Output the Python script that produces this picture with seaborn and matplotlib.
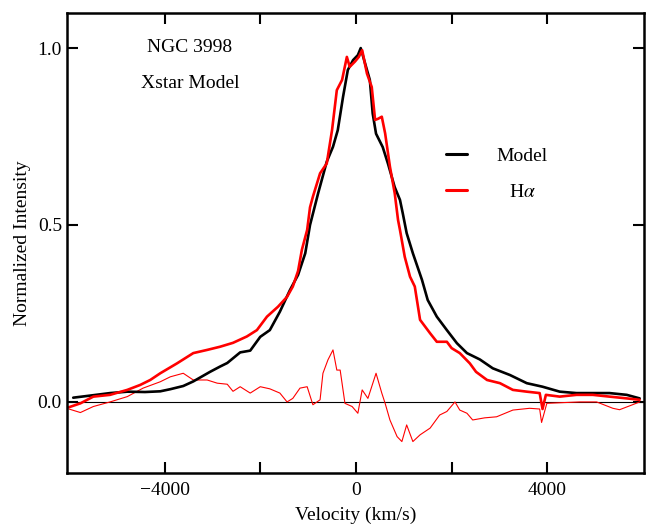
import matplotlib
matplotlib.use("Agg")
import matplotlib.pyplot as plt
import seaborn as sns
import numpy as np

# ---------------- data ----------------
model_v = [-5910, -5550, -5140, -4780, -4410, -4090, -3880, -3610, -3400, -3050,
           -2840, -2690, -2420, -2210, -2000, -1800, -1590, -1380, -1210, -1060,
           -960, -790, -610, -480, -380, -270, -170, -60, 40, 100,
           190, 290, 350, 420, 560, 670, 810, 920, 980, 1060, 1190,
           1380, 1500, 1690, 1900, 2110, 2320, 2590, 2860, 3220, 3570,
           3900, 4260, 4610, 4950, 5300, 5660, 5930]
model_i = [0.012, 0.018, 0.025, 0.029, 0.028, 0.030, 0.036, 0.045, 0.058, 0.085,
           0.100, 0.110, 0.140, 0.145, 0.184, 0.203, 0.255, 0.316, 0.359, 0.420,
           0.500, 0.590, 0.679, 0.721, 0.768, 0.862, 0.938, 0.966, 0.980, 1.000,
           0.957, 0.910, 0.815, 0.758, 0.720, 0.673, 0.607, 0.571, 0.532, 0.477, 0.420,
           0.345, 0.288, 0.241, 0.203, 0.166, 0.138, 0.120, 0.095, 0.076, 0.053,
           0.043, 0.029, 0.025, 0.025, 0.025, 0.020, 0.010]

halpha_v = [-6000, -5760, -5490, -5140, -4780, -4510, -4300, -4090, -3740, -3400,
            -3110, -2840, -2570, -2280, -2070, -1860, -1630, -1440, -1320, -1210,
            -1130, -1020, -960, -900, -750, -610, -500, -400, -290, -190,
            -130, -20, 60, 130, 230, 330, 400, 460, 540, 610,
            710, 810, 880, 920, 1020, 1130, 1230, 1340, 1550, 1690,
            1900, 2000, 2170, 2380, 2510, 2740, 3010, 3280, 3570, 3840,
            3900, 3970, 4260, 4610, 4950, 5300, 5660, 5930]
halpha_i = [-0.015, -0.004, 0.015, 0.020, 0.034, 0.048, 0.062, 0.081, 0.109, 0.138,
            0.147, 0.156, 0.167, 0.185, 0.203, 0.241, 0.269, 0.297, 0.326, 0.370,
            0.430, 0.486, 0.550, 0.580, 0.646, 0.674, 0.768, 0.881, 0.910, 0.975,
            0.947, 0.962, 0.975, 0.994, 0.928, 0.890, 0.797, 0.800, 0.806, 0.759,
            0.665, 0.590, 0.514, 0.486, 0.410, 0.354, 0.326, 0.232, 0.194, 0.170,
            0.170, 0.152, 0.138, 0.109, 0.085, 0.062, 0.053, 0.034, 0.029, 0.025,
            -0.020, 0.020, 0.015, 0.020, 0.020, 0.015, 0.010, 0.006]

resid_v = [-6000, -5760, -5490, -5140, -4780, -4450, -4090, -3880, -3610, -3400,
           -3110, -2900, -2690, -2570, -2420, -2210, -2000, -1800, -1590, -1440,
           -1320, -1170, -1020, -900, -750, -690, -585, -480, -400, -330,
           -230, -80, 40, 130, 250, 420, 540, 610, 710, 860,
           960, 1060, 1190, 1340, 1550, 1750, 1900, 2070, 2170, 2320,
           2440, 2690, 2940, 3280, 3630, 3840, 3880, 3990, 4320, 4680,
           5030, 5370, 5510, 5780, 5930]
resid_i = [-0.020, -0.030, -0.013, 0.000, 0.015, 0.039, 0.057, 0.071, 0.081, 0.062,
           0.062, 0.053, 0.050, 0.030, 0.043, 0.025, 0.043, 0.037, 0.025, 0.000,
           0.010, 0.039, 0.043, -0.008, 0.006, 0.081, 0.119, 0.147, 0.090, 0.090,
           -0.004, -0.013, -0.032, 0.034, 0.010, 0.081, 0.025, -0.004, -0.051, -0.098,
           -0.112, -0.065, -0.112, -0.093, -0.074, -0.037, -0.027, 0.000, -0.023, -0.032,
           -0.051, -0.045, -0.042, -0.023, -0.018, -0.020, -0.058, -0.004, -0.002, 0.000,
           0.000, -0.018, -0.022, -0.008, 0.000]

x_ticks = [-4000, -2000, 0, 2000, 4000]
x_tick_labels = ["\u22124000", "", "0", "", "4000"]
y_ticks = [0.0, 0.5, 1.0]
y_tick_labels = ["0.0", "0.5", "1.0"]
series_labels = ["Model", "H$\\alpha$"]

# ---------------- style ----------------
sns.set_style("ticks")
plt.rcParams["font.family"] = ["Liberation Serif", "DejaVu Serif"]
plt.rcParams["mathtext.fontset"] = "stix"
plt.rcParams["text.color"] = "black"
plt.rcParams["axes.labelcolor"] = "black"
plt.rcParams["xtick.color"] = "black"
plt.rcParams["ytick.color"] = "black"
FS = 14

fig = plt.figure(figsize=(6.5, 5.24), dpi=100)
ax = fig.add_axes([0.1038, 0.0979, 0.8869, 0.8779])

sns.lineplot(x=resid_v, y=resid_i, ax=ax, color="red", lw=0.8, sort=False)
sns.lineplot(x=model_v, y=model_i, ax=ax, color="black", lw=1.9, sort=False,
             label=series_labels[0])
sns.lineplot(x=halpha_v, y=halpha_i, ax=ax, color="red", lw=1.9, sort=False,
             label=series_labels[1])
ax.axhline(0.0, color="black", lw=0.8, zorder=1)

ax.set_xlim(-6030, 6020)
ax.set_ylim(-0.2, 1.1)
ax.set_xticks(x_ticks)
ax.set_xticklabels(x_tick_labels)
ax.set_yticks(y_ticks)
ax.set_yticklabels(y_tick_labels)
ax.tick_params(direction="in", length=8, width=1.5, top=True, right=True,
               labelsize=FS, colors="black", labelcolor="black")
ax.tick_params(axis="x", pad=7)
ax.tick_params(axis="y", pad=4)
for s in ax.spines.values():
    s.set_linewidth(1.8)
    s.set_color("black")

ax.set_xlabel("Velocity (km/s)", fontsize=FS, labelpad=5, color="black")
ax.set_ylabel("Normalized Intensity", fontsize=FS, labelpad=5, color="black")

ax.text(0.2125, 0.9236, "NGC 3998", transform=ax.transAxes, ha="center",
        va="center", fontsize=FS, color="black")
ax.text(0.2125, 0.845, "Xstar Model", transform=ax.transAxes, ha="center",
        va="center", fontsize=FS, color="black")

leg = ax.legend(loc="upper left", bbox_to_anchor=(0.6566, 0.708), frameon=False,
                fontsize=FS, handlelength=1.1, handletextpad=1.5,
                labelspacing=0.98, borderpad=0, borderaxespad=0)
for ln in leg.get_lines():
    ln.set_linewidth(2.2)
for t in leg.get_texts():
    t.set_color("black")

# center the legend labels within their column
fig.canvas.draw()
r = fig.canvas.get_renderer()
texts = leg.get_texts()
widths = [t.get_window_extent(r).width for t in texts]
wmax = max(widths)
for t, w in zip(texts, widths):
    t.set_x((wmax - w) / 2)

fig.savefig("out.png", dpi=100)
